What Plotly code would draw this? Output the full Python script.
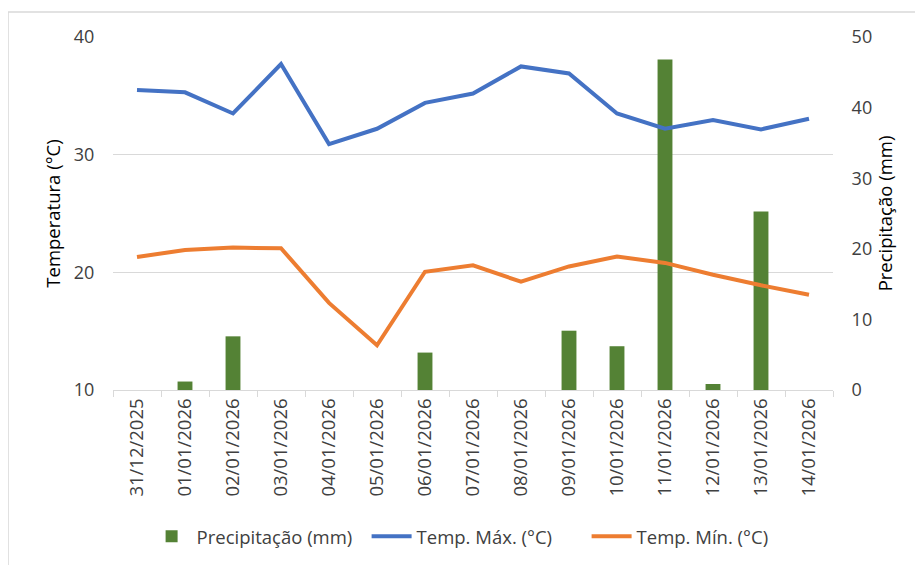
import plotly.graph_objects as go

dates = ["31/12/2025", "01/01/2026", "02/01/2026", "03/01/2026", "04/01/2026",
         "05/01/2026", "06/01/2026", "07/01/2026", "08/01/2026", "09/01/2026",
         "10/01/2026", "11/01/2026", "12/01/2026", "13/01/2026", "14/01/2026"]
precip = [0, 1.2, 7.6, 0, 0, 0, 5.3, 0, 0, 8.4, 6.2, 46.8, 0.85, 25.3, 0]
tmax = [35.5, 35.3, 33.5, 37.7, 30.9, 32.2, 34.4, 35.2, 37.5, 36.9, 33.5, 32.2, 32.95, 32.15, 33.05]
tmin = [21.3, 21.9, 22.1, 22.05, 17.4, 13.8, 20.05, 20.6, 19.2, 20.5, 21.35, 20.8, 19.8, 18.9, 18.1]

FONT = "Open Sans"
TXT = "#404040"

fig = go.Figure()
fig.add_trace(go.Bar(x=dates, y=precip, name="Precipitação (mm)",
                     marker=dict(color="#548235", line=dict(width=0)), yaxis="y"))
fig.add_trace(go.Scatter(x=dates, y=tmax, name="Temp. Máx. (°C)", mode="lines",
                         line=dict(color="#4472C4", width=4), yaxis="y2"))
fig.add_trace(go.Scatter(x=dates, y=tmin, name="Temp. Mín. (°C)", mode="lines",
                         line=dict(color="#ED7D31", width=4), yaxis="y2"))

fig.update_layout(
    width=923, height=565,
    margin=dict(l=105, r=98, t=29, b=183, autoexpand=False),
    paper_bgcolor="white", plot_bgcolor="white",
    font=dict(family=FONT, color=TXT, size=17),
    bargap=0.69,
    showlegend=True,
    legend=dict(orientation="h", x=0.505, xanchor="center", y=-0.416, yanchor="middle",
                font=dict(size=18.5, color=TXT), traceorder="normal", itemwidth=40,
                entrywidth=165, entrywidthmode="pixels"),
    xaxis=dict(type="category", tickangle=-90, showline=True, linecolor="#D9D9D9",
               linewidth=1, ticks="outside", tickcolor="#D9D9D9", ticklen=6,
               tickson="boundaries", showgrid=False, tickfont=dict(size=18.5, color=TXT)),
    yaxis=dict(range=[0, 50], dtick=10, side="right", showgrid=False, zeroline=False,
               showline=False, ticks="outside", ticklen=14, tickcolor="rgba(0,0,0,0)",
               tickfont=dict(size=18, color=TXT),
               title=dict(text="Precipitação (mm)", font=dict(size=18.5, color="#000000"),
                          standoff=4)),
    yaxis2=dict(range=[10, 40], dtick=10, side="left", overlaying="y", showgrid=True,
                gridcolor="#D9D9D9", gridwidth=1, zeroline=False, showline=False,
                ticks="outside", ticklen=14, tickcolor="rgba(0,0,0,0)",
                tickfont=dict(size=18, color=TXT),
                title=dict(text="Temperatura (°C)", font=dict(size=18.5, color="#000000"),
                           standoff=8)),
    shapes=[dict(type="rect", xref="paper", yref="paper",
                 x0=-0.1458, x1=1.14, y0=-0.52, y1=1.0708,
                 line=dict(color="#D9D9D9", width=1.5), fillcolor="rgba(0,0,0,0)",
                 layer="below")],
)

fig.write_html("out.html")
